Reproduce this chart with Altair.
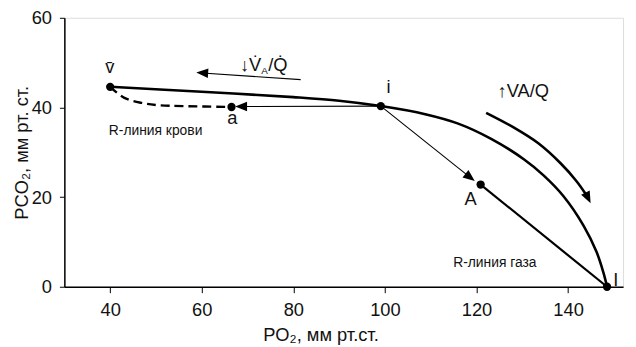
import altair as alt
import pandas as pd

FONT = "Liberation Sans"

# key points of the diagram
pt_label = ["v\u0304", "a", "i", "A", "I"]
pt_x = [40.0, 66.5, 99.1, 120.9, 148.5]
pt_y = [44.6, 40.1, 40.3, 22.8, 0.0]

# main VA/Q curve (v̄ -> i -> I)
curve_x = [40.0, 60.0, 80.0, 90.0, 99.1, 108.8, 116.0, 123.2, 130.4, 134.7, 139.0, 143.4, 146.2, 147.7, 148.5]
curve_y = [44.6, 43.5, 42.3, 41.5, 40.3, 38.5, 36.4, 33.0, 28.4, 24.8, 20.2, 13.6, 7.8, 3.2, 0.0]

# blood R-line (dashed, v̄ -> a)
blood_x = [40.0, 43.0, 46.9, 50.5, 55.9, 66.5]
blood_y = [44.6, 42.2, 41.0, 40.5, 40.3, 40.1]

# gas R-line (A -> I)
gas_x = [120.9, 148.5]
gas_y = [22.8, 0.0]

# curved "increasing VA/Q" arrow
carc_x = [122.1, 128.0, 133.5, 138.3, 141.8, 143.9]
carc_y = [38.8, 35.6, 32.0, 27.6, 23.6, 20.6]

# straight thin arrows: start -> head
arr_x1 = [99.1, 99.1, 81.6]
arr_y1 = [40.3, 40.3, 46.2]
arr_x2 = [68.6, 118.6, 60.1]
arr_y2 = [40.2, 24.4, 47.7]

# arrow heads
head_x = [68.6, 118.6, 60.1, 144.35]
head_y = [40.2, 24.4, 47.7, 19.8]
head_angle = [180, 38.6, 183.8, 64]

x_scale = alt.Scale(domain=[30, 152], nice=False, zero=False)
y_scale = alt.Scale(domain=[0, 60], nice=False)

x_axis = alt.Axis(values=[40, 60, 80, 100, 120, 140], tickSize=6, tickColor="black",
                  domainColor="black", domainWidth=1.5, labelFontSize=18.5, labelPadding=8.5,
                  labelColor="#111", grid=False, title="PO\u2082, мм рт.ст.", titleFontSize=18.5,
                  titleFontWeight="normal", titleColor="#111", titleX=259, titleY=54,
                  titleBaseline="alphabetic", titleAnchor="middle")
y_axis = alt.Axis(values=[0, 20, 40, 60], tickSize=5, tickColor="black",
                  domainColor="black", domainWidth=1.5, labelFontSize=18.5, labelPadding=8,
                  labelColor="#111", grid=False, title="PCO\u2082, мм рт. ст.", titleFontSize=18.5,
                  titleFontWeight="normal", titleColor="#111", titlePadding=0)

def xy(df):
    return dict(x=alt.X("x:Q", scale=x_scale, axis=x_axis), y=alt.Y("y:Q", scale=y_scale, axis=y_axis))

curve_df = pd.DataFrame({"x": curve_x, "y": curve_y, "o": range(len(curve_x))})
blood_df = pd.DataFrame({"x": blood_x, "y": blood_y, "o": range(len(blood_x))})
gas_df = pd.DataFrame({"x": gas_x, "y": gas_y, "o": range(len(gas_x))})
carc_df = pd.DataFrame({"x": carc_x, "y": carc_y, "o": range(len(carc_x))})
arr_df = pd.DataFrame({"x": arr_x1, "y": arr_y1, "x2": arr_x2, "y2": arr_y2})
head_df = pd.DataFrame({"x": head_x, "y": head_y, "ang": head_angle})
pt_df = pd.DataFrame({"x": pt_x, "y": pt_y, "label": pt_label})

main = alt.Chart(curve_df).mark_line(color="black", strokeWidth=2.6, interpolate="catmull-rom").encode(
    order="o:Q", **xy(curve_df))
blood = alt.Chart(blood_df).mark_line(color="black", strokeWidth=2.4, strokeDash=[9, 5],
                                      interpolate="catmull-rom").encode(order="o:Q", **xy(blood_df))
gas = alt.Chart(gas_df).mark_line(color="black", strokeWidth=2.2).encode(order="o:Q", **xy(gas_df))
carc = alt.Chart(carc_df).mark_line(color="black", strokeWidth=2.6, interpolate="catmull-rom").encode(
    order="o:Q", **xy(carc_df))
arrows = alt.Chart(arr_df).mark_rule(color="black", strokeWidth=1.1).encode(
    x2="x2:Q", y2="y2:Q", **xy(arr_df))
heads = alt.Chart(head_df).mark_point(shape="M1,0L-1,-0.8L-1,0.8Z", filled=True, color="black",
                                      opacity=1, size=144, strokeWidth=0).encode(
    angle=alt.Angle("ang:Q", scale=None), **xy(head_df))
dots = alt.Chart(pt_df).mark_circle(color="black", opacity=1, size=70).encode(**xy(pt_df))

def label(text, x, y, size=18.5, align="center", baseline="middle"):
    d = pd.DataFrame({"x": [x], "y": [y], "t": [text]})
    return alt.Chart(d).mark_text(font=FONT, fontSize=size, align=align, baseline=baseline,
                                  color="#111").encode(text="t:N", **xy(d))

texts = [
    label("v\u0304", 39.9, 48.9),
    label("a", 66.7, 37.6),
    label("i", 100.8, 44.5),
    label("A", 118.7, 19.5),
    label("I", 150.4, 1.5),
    label("R-линия крови", 39.7, 34.7, size=14, align="left"),
    label("R-линия газа", 114.9, 5.4, size=14, align="left"),
    label("\u2193V\u0307", 73.0, 48.2, align="right", baseline="alphabetic"),
    label("A", 73.0, 47.5, size=10, align="left", baseline="alphabetic"),
    label("/Q\u0307", 74.5, 48.2, align="left", baseline="alphabetic"),
    label("\u2191VA/Q", 124.6, 42.3, align="left", baseline="alphabetic"),
]

chart = alt.layer(main, blood, gas, carc, arrows, heads, dots, *texts).properties(
    width=565, height=272,
    autosize=alt.AutoSizeParams(type="none"),
    padding={"left": 57, "top": 8, "right": 5, "bottom": 57},
).configure_view(stroke="#333", strokeWidth=1).configure(font=FONT)

chart.save("out.html", embed_options={"renderer": "svg", "actions": False})
